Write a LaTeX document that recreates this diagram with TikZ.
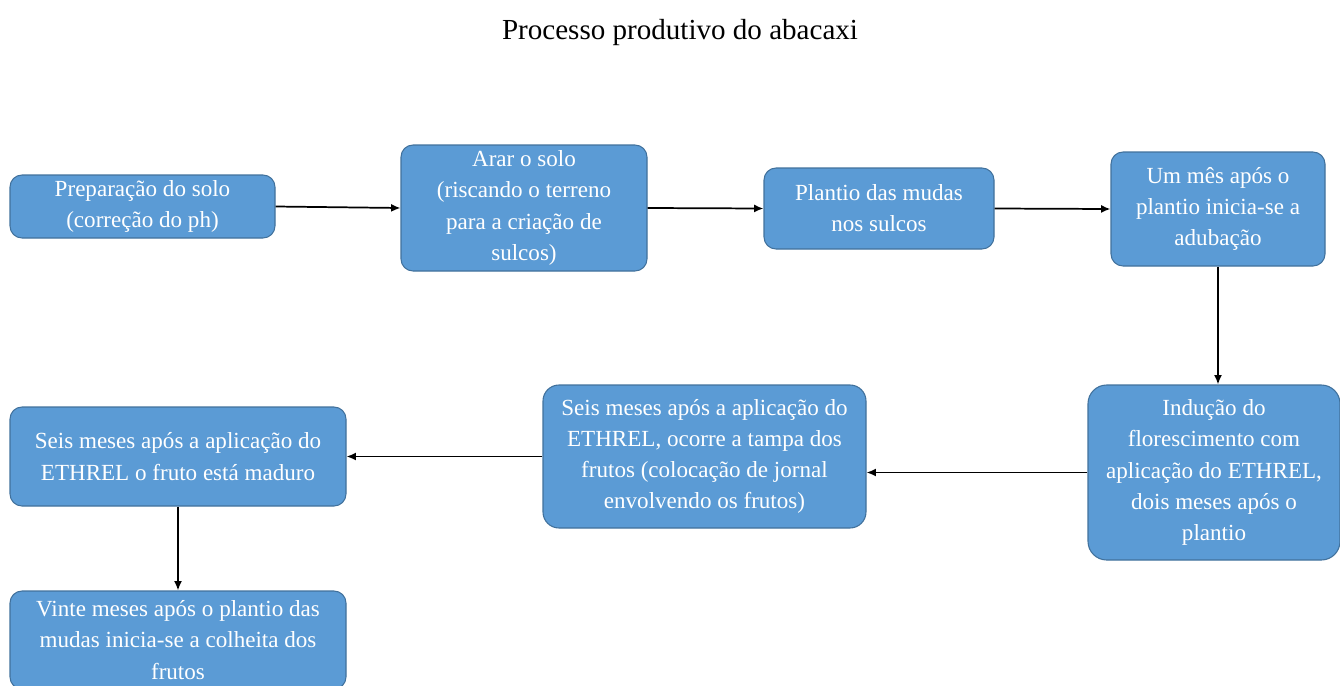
\documentclass[tikz,border=0pt]{standalone}
\usepackage{fontspec}
\setmainfont{Liberation Serif}
\usetikzlibrary{arrows.meta}
\definecolor{boxfill}{HTML}{5B9BD5}
\definecolor{boxline}{HTML}{41719C}
\tikzset{
  stepbox/.style={draw=boxline, line width=0.8pt, fill=boxfill, text=white, rounded corners=9pt,
    align=center, inner sep=0pt, font=\fontsize{17.3}{23.4}\selectfont},
  conn/.style={line width=1.3pt, -{Latex[length=7pt,width=6pt]}}
}
\begin{document}
\begin{tikzpicture}[x=0.75pt,y=-0.75pt]
\useasboundingbox (0,0) rectangle (1340,686);
\node (title) at (680,33) {\fontsize{21.8}{25}\selectfont Processo produtivo do abacaxi};
\node[stepbox, minimum width=198.75pt, minimum height=47.25pt] (b1) at (142.5,206.5) {Preparação do solo\\(correção do ph)};
\node[stepbox, minimum width=184.5pt, minimum height=94.5pt] (b2) at (524,208) {Arar o solo\\(riscando o terreno\\para a criação de\\sulcos)};
\node[stepbox, minimum width=172.5pt, minimum height=60.75pt] (b3) at (879,208.5) {Plantio das mudas\\nos sulcos};
\node[stepbox, minimum width=160.5pt, minimum height=85.5pt] (b4) at (1218,209) {Um mês após o\\plantio inicia-se a\\adubação};
\node[stepbox, minimum width=189pt, minimum height=131.25pt, rounded corners=14pt] (b5) at (1214,472.5) {Indução do\\florescimento com\\aplicação do ETHREL,\\dois meses após o\\plantio};
\node[stepbox, minimum width=242.25pt, minimum height=107.25pt, rounded corners=12pt] (b6) at (704.5,456.5) {Seis meses após a aplicação do\\ETHREL, ocorre a tampa dos\\frutos (colocação de jornal\\envolvendo os frutos)};
\node[stepbox, minimum width=252pt, minimum height=74.25pt] (b7) at (178,456.5) {Seis meses após a aplicação do\\ETHREL o fruto está maduro};
\node[stepbox, minimum width=252pt, minimum height=73.5pt] (b8) at (178,640) {Vinte meses após o plantio das\\mudas inicia-se a colheita dos\\frutos};
\draw[conn] (b1.east) -- (b2.west);
\draw[conn] (b2.east) -- (b3.west);
\draw[conn] (b3.east) -- (b4.west);
\draw[conn] (b4.south) -- (b5.north -| b4.south);
\draw[conn] (b5.west) -- (b6.east |- b5.west);
\draw[conn] (b6.west) -- (b7.east |- b6.west);
\draw[conn] (b7.south) -- (b8.north);
\end{tikzpicture}
\end{document}
